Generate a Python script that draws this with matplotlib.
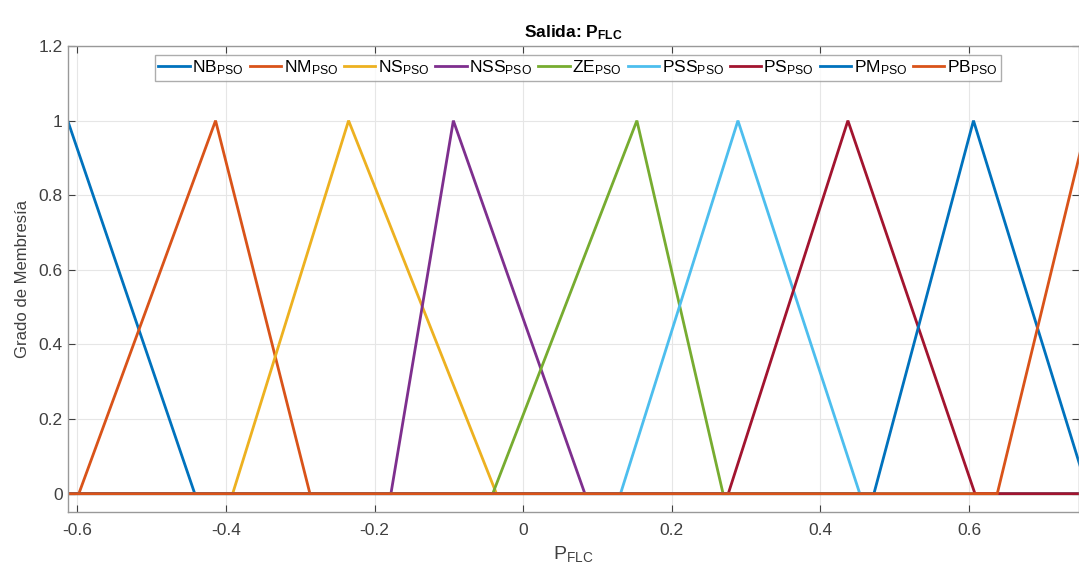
import matplotlib.pyplot as plt

plt.rcParams['font.family'] = ['Liberation Sans', 'DejaVu Sans']
plt.rcParams['mathtext.fontset'] = 'custom'
plt.rcParams['mathtext.rm'] = 'Liberation Sans'
plt.rcParams['mathtext.it'] = 'Liberation Sans'
plt.rcParams['mathtext.bf'] = 'Liberation Sans:bold'

x_min, x_max = -0.613, 0.748

names = ['NB', 'NM', 'NS', 'NSS', 'ZE', 'PSS', 'PS', 'PM', 'PB']
# triangle corners (left foot, peak, right foot)
left = [-0.78, -0.598, -0.391, -0.178, -0.041, 0.131, 0.276, 0.472, 0.638]
peak = [-0.613, -0.414, -0.235, -0.094, 0.153, 0.289, 0.437, 0.606, 0.760]
right = [-0.442, -0.287, -0.036, 0.083, 0.269, 0.453, 0.608, 0.761, 0.88]

colors = ['#0072BD', '#D95319', '#EDB120', '#7E2F8E', '#77AC30',
          '#4DBEEE', '#A2142F', '#0072BD', '#D95319']

fig = plt.figure(figsize=(10.79, 5.68), dpi=100)
ax = fig.add_axes([67.7 / 1079, 1 - 512.3 / 568, 1 - 67.7 / 1079, 466.3 / 568])

for n, a, b, c, col in zip(names, left, peak, right, colors):
    xs = [x_min - 0.5, a, b, c, x_max + 0.5]
    ys = [0, 0, 1, 0, 0]
    ax.plot(xs, ys, color=col, lw=2.0, label=n + '$_{\\mathrm{PSO}}$', solid_joinstyle='miter')

ax.set_xlim(x_min, x_max)
ax.set_ylim(-0.05, 1.2)
ax.set_xticks([-0.6, -0.4, -0.2, 0, 0.2, 0.4, 0.6])
ax.set_xticklabels(['-0.6', '-0.4', '-0.2', '0', '0.2', '0.4', '0.6'])
ax.set_yticks([0, 0.2, 0.4, 0.6, 0.8, 1, 1.2])
ax.set_yticklabels(['0', '0.2', '0.4', '0.6', '0.8', '1', '1.2'])
ax.grid(True, color='#e6e6e6', lw=0.8)
ax.set_axisbelow(True)
ax.tick_params(direction='in', top=True, right=True, labelsize=12.5,
               colors='#404040', length=5, width=0.8)
ax.tick_params(axis='x', pad=8)
for s in ax.spines.values():
    s.set_color('#999999')
    s.set_linewidth(1.0)

ax.set_title('Salida: $\\mathbf{P_{FLC}}$', fontsize=12.5, fontweight='bold', pad=6)
ax.set_xlabel('$\\mathrm{P_{FLC}}$', fontsize=14, color='#404040', labelpad=4)
ax.set_ylabel('Grado de Membresía', fontsize=12, color='#404040', labelpad=6)

leg = ax.legend(loc='upper center', bbox_to_anchor=(0.5046, 0.981), ncol=9,
                fontsize=12.5, frameon=True, fancybox=False, handlelength=1.8,
                handletextpad=0.15, columnspacing=0.35, borderpad=0.2,
                borderaxespad=0.0)
leg.get_frame().set_edgecolor('#999999')
leg.get_frame().set_linewidth(1.0)

fig.savefig('out.png', dpi=100)
